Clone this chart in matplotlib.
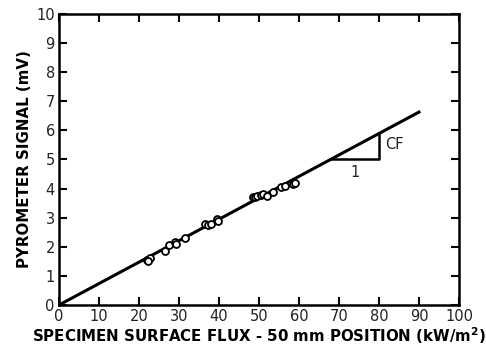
import matplotlib
matplotlib.use("Agg")
import matplotlib.pyplot as plt
import numpy as np

flux = [22.0, 22.8, 22.3, 26.5, 27.5, 29.0, 29.3, 31.5, 36.5, 37.3, 38.0, 39.5, 39.7,
        48.5, 49.0, 49.5, 50.5, 51.0, 52.0, 53.5, 55.5, 56.5, 58.5, 59.0]
signal = [1.55, 1.60, 1.50, 1.85, 2.05, 2.15, 2.10, 2.30, 2.80, 2.75, 2.80, 2.95, 2.90,
          3.70, 3.72, 3.75, 3.78, 3.80, 3.75, 3.90, 4.05, 4.10, 4.15, 4.20]
fit_x = [0, 90]
fit_y = [0, 6.63]
tri_x = [67.8, 80, 80]
tri_y = [5.0, 5.0, 5.9]

fig = plt.figure(figsize=(4.86, 3.51), dpi=100)
ax = fig.add_axes([59/486, 1 - 305/351, 400/486, 291/351])
ax.plot(fit_x, fit_y, color='black', lw=2.2, zorder=2)
ax.plot(flux, signal, 'o', mfc='white', mec='black', mew=1.3, ms=5, zorder=3)
ax.plot(tri_x, tri_y, color='black', lw=1.8, zorder=2)
ax.text(81.5, 5.5, 'CF', fontsize=10.5, va='center', ha='left', color='#222222')
ax.text(74, 4.55, '1', fontsize=10.5, va='center', ha='center', color='#222222')

ax.set_xlim(0, 100)
ax.set_ylim(0, 10)
ax.set_xticks(range(0, 101, 10))
ax.set_yticks(range(0, 11, 1))
ax.tick_params(direction='in', top=True, right=True, length=6, width=1.5, labelsize=10.5, pad=3,
               labelcolor='#222222')
for s in ax.spines.values():
    s.set_linewidth(1.8)
ax.set_xlabel('SPECIMEN SURFACE FLUX - 50 mm POSITION (kW/m$^{\\mathbf{2}}$)', fontsize=10.8, fontweight='bold', labelpad=1)
ax.set_ylabel('PYROMETER SIGNAL (mV)', fontsize=10.8, fontweight='bold', labelpad=3)
fig.savefig('out.png', dpi=100)
